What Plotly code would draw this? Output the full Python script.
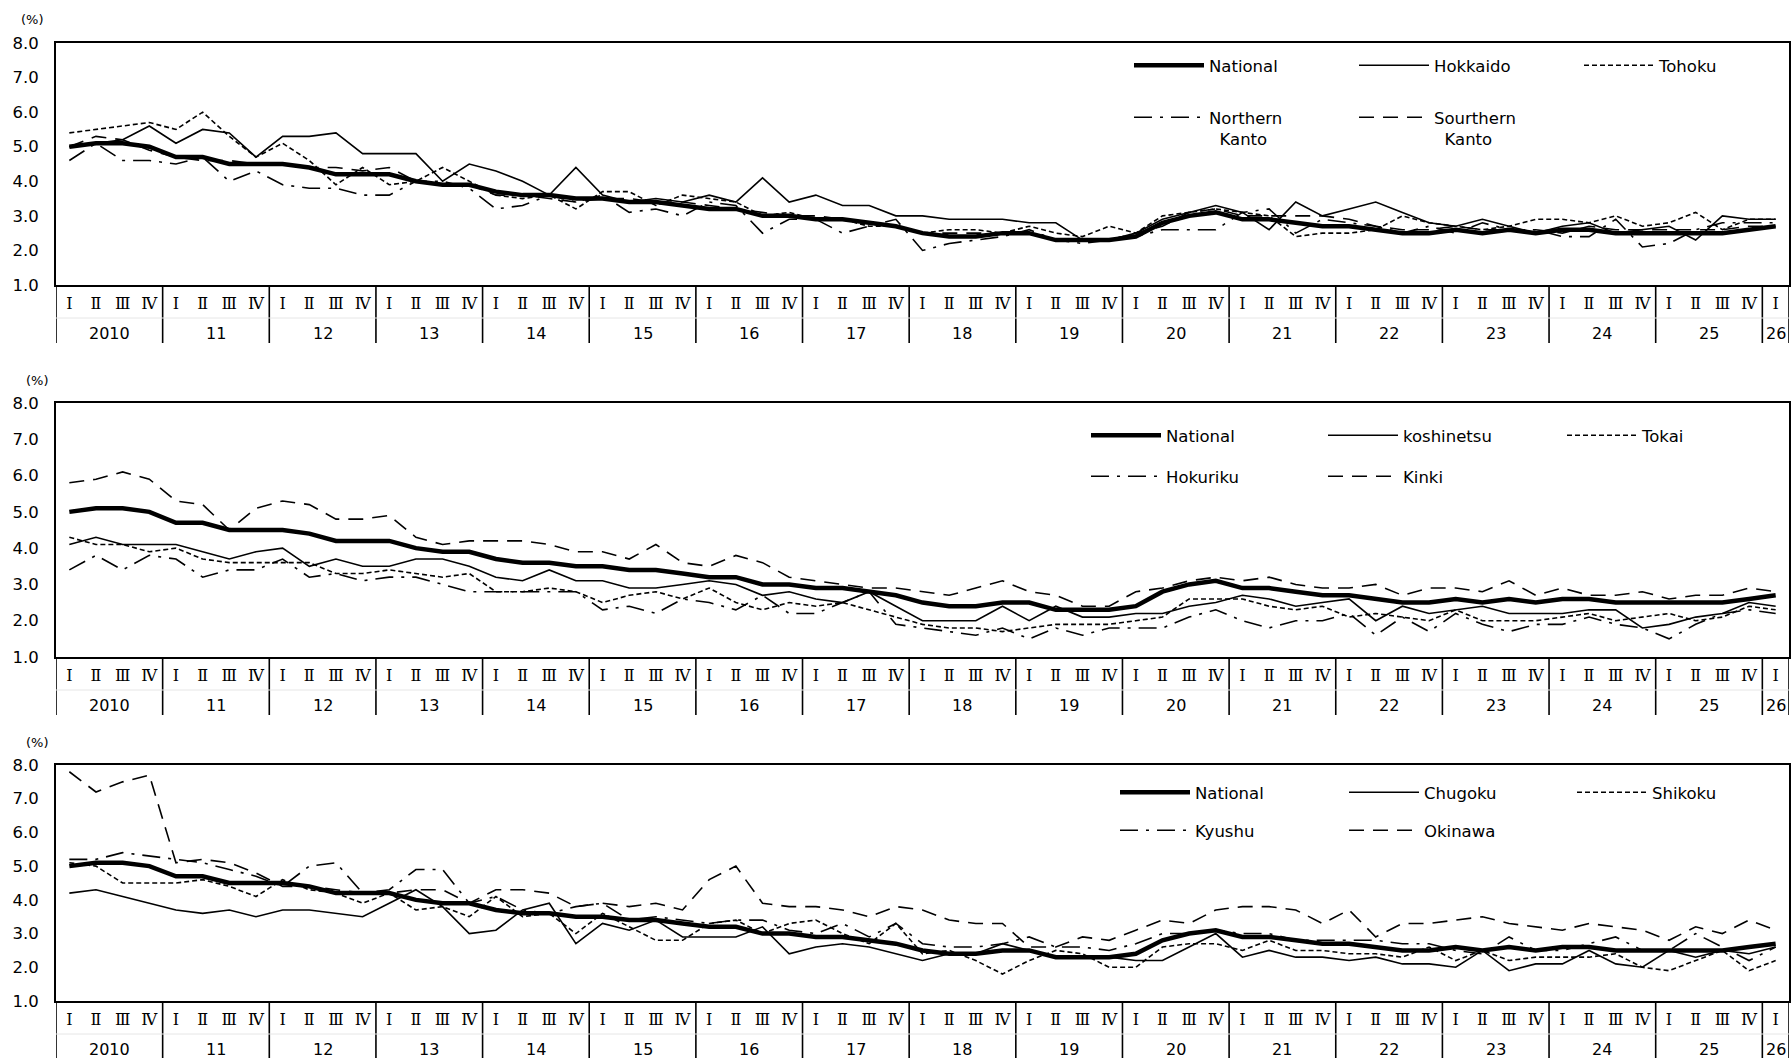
"""
    Regional unemployment rate, quarterly, three panels
"""

##########==========##########==========##########==========##########==========
## INITIALIZE ENVIRONMENT

import plotly.graph_objects as go

## categories
periods = [f'{y} Q{q}' for y in range(2010, 2026) for q in range(1, 5)] + ['2026 Q1']
quarter_text = ['Ⅰ', 'Ⅱ', 'Ⅲ', 'Ⅳ'] * 16 + ['Ⅰ']
year_text = ['2010', '11', '12', '13', '14', '15', '16', '17', '18', '19',
             '20', '21', '22', '23', '24', '25', '26']

## series values (%)
national = [5.0, 5.1, 5.1, 5.0, 4.7, 4.7, 4.5, 4.5, 4.5, 4.4, 4.2, 4.2,
            4.2, 4.0, 3.9, 3.9, 3.7, 3.6, 3.6, 3.5, 3.5, 3.4, 3.4, 3.3,
            3.2, 3.2, 3.0, 3.0, 2.9, 2.9, 2.8, 2.7, 2.5, 2.4, 2.4, 2.5,
            2.5, 2.3, 2.3, 2.3, 2.4, 2.8, 3.0, 3.1, 2.9, 2.9, 2.8, 2.7,
            2.7, 2.6, 2.5, 2.5, 2.6, 2.5, 2.6, 2.5, 2.6, 2.6, 2.5, 2.5,
            2.5, 2.5, 2.5, 2.6, 2.7]
hokkaido = [5.0, 5.1, 5.2, 5.6, 5.1, 5.5, 5.4, 4.7, 5.3, 5.3, 5.4, 4.8,
            4.8, 4.8, 4.0, 4.5, 4.3, 4.0, 3.6, 4.4, 3.6, 3.4, 3.5, 3.4,
            3.6, 3.4, 4.1, 3.4, 3.6, 3.3, 3.3, 3.0, 3.0, 2.9, 2.9, 2.9,
            2.8, 2.8, 2.3, 2.3, 2.5, 2.9, 3.1, 3.3, 3.1, 2.6, 3.4, 3.0,
            3.2, 3.4, 3.1, 2.8, 2.7, 2.9, 2.7, 2.5, 2.7, 2.8, 2.5, 2.6,
            2.7, 2.3, 3.0, 2.9, 2.9]
tohoku = [5.4, 5.5, 5.6, 5.7, 5.5, 6.0, 5.3, 4.7, 5.1, 4.6, 3.9, 4.4,
          3.9, 4.0, 4.4, 4.0, 3.6, 3.5, 3.6, 3.2, 3.7, 3.7, 3.3, 3.6,
          3.5, 3.4, 3.0, 3.1, 2.9, 2.9, 2.7, 2.7, 2.5, 2.6, 2.6, 2.5,
          2.7, 2.5, 2.4, 2.7, 2.5, 3.0, 3.1, 3.2, 3.1, 3.0, 2.4, 2.5,
          2.5, 2.6, 3.0, 2.8, 2.7, 2.6, 2.7, 2.9, 2.9, 2.8, 3.0, 2.7,
          2.8, 3.1, 2.6, 2.9, 2.9]
n_kanto = [4.6, 5.1, 4.6, 4.6, 4.5, 4.7, 4.0, 4.3, 3.9, 3.8, 3.8, 3.6,
           3.6, 4.0, 4.0, 3.8, 3.2, 3.3, 3.6, 3.4, 3.6, 3.1, 3.2, 3.0,
           3.4, 3.3, 2.5, 2.9, 2.9, 2.5, 2.7, 2.9, 2.0, 2.2, 2.3, 2.4,
           2.6, 2.3, 2.2, 2.3, 2.4, 2.6, 2.6, 2.6, 3.1, 3.2, 2.5, 2.9,
           2.8, 2.7, 2.5, 2.7, 2.5, 2.8, 2.6, 2.6, 2.4, 2.4, 2.9, 2.1,
           2.2, 2.6, 2.8, 2.8, 2.8]
s_kanto = [5.0, 5.3, 5.2, 4.9, 4.7, 4.6, 4.6, 4.5, 4.5, 4.4, 4.4, 4.3,
           4.4, 4.0, 3.9, 3.9, 3.6, 3.6, 3.5, 3.4, 3.5, 3.5, 3.4, 3.4,
           3.3, 3.2, 3.1, 3.0, 3.0, 2.9, 2.8, 2.7, 2.5, 2.5, 2.5, 2.5,
           2.5, 2.3, 2.3, 2.3, 2.5, 2.7, 3.1, 3.2, 3.0, 3.0, 3.0, 3.0,
           2.9, 2.7, 2.6, 2.6, 2.7, 2.6, 2.6, 2.6, 2.5, 2.7, 2.6, 2.6,
           2.6, 2.6, 2.6, 2.7, 2.7]
koshinetsu = [4.1, 4.3, 4.1, 4.1, 4.1, 3.9, 3.7, 3.9, 4.0, 3.5, 3.7, 3.5,
              3.5, 3.7, 3.7, 3.5, 3.2, 3.1, 3.4, 3.1, 3.1, 2.9, 2.9, 3.0,
              3.1, 3.0, 2.7, 2.8, 2.6, 2.5, 2.8, 2.4, 2.0, 2.0, 2.0, 2.4,
              2.0, 2.4, 2.1, 2.1, 2.2, 2.2, 2.4, 2.5, 2.7, 2.6, 2.4, 2.5,
              2.6, 2.0, 2.4, 2.2, 2.3, 2.4, 2.2, 2.2, 2.2, 2.3, 2.3, 1.8,
              1.9, 2.1, 2.2, 2.5, 2.4]
tokai = [4.3, 4.1, 4.1, 3.9, 4.0, 3.7, 3.6, 3.6, 3.6, 3.6, 3.3, 3.3,
         3.4, 3.3, 3.2, 3.3, 2.8, 2.8, 2.9, 2.8, 2.5, 2.7, 2.8, 2.6,
         2.9, 2.5, 2.3, 2.5, 2.4, 2.5, 2.3, 2.1, 1.9, 1.8, 1.8, 1.7,
         1.8, 1.9, 1.9, 1.9, 2.0, 2.1, 2.6, 2.6, 2.6, 2.4, 2.3, 2.4,
         2.1, 2.2, 2.1, 2.0, 2.3, 2.0, 2.0, 2.0, 2.1, 2.2, 2.0, 2.1,
         2.2, 2.0, 2.1, 2.4, 2.3]
hokuriku = [3.4, 3.8, 3.4, 3.8, 3.7, 3.2, 3.4, 3.4, 3.7, 3.2, 3.3, 3.1,
            3.2, 3.2, 3.0, 2.8, 2.8, 2.8, 2.8, 2.8, 2.3, 2.4, 2.2, 2.6,
            2.5, 2.3, 2.7, 2.2, 2.2, 2.5, 2.8, 1.9, 1.8, 1.7, 1.6, 1.8,
            1.5, 1.8, 1.6, 1.8, 1.8, 1.8, 2.1, 2.3, 2.0, 1.8, 2.0, 2.0,
            2.2, 1.6, 2.1, 1.7, 2.2, 1.9, 1.7, 1.9, 1.9, 2.1, 1.9, 1.8,
            1.5, 1.9, 2.2, 2.3, 2.2]
kinki = [5.8, 5.9, 6.1, 5.9, 5.3, 5.2, 4.5, 5.1, 5.3, 5.2, 4.8, 4.8,
         4.9, 4.3, 4.1, 4.2, 4.2, 4.2, 4.1, 3.9, 3.9, 3.7, 4.1, 3.6,
         3.5, 3.8, 3.6, 3.2, 3.1, 3.0, 2.9, 2.9, 2.8, 2.7, 2.9, 3.1,
         2.8, 2.7, 2.4, 2.4, 2.8, 2.9, 3.1, 3.2, 3.1, 3.2, 3.0, 2.9,
         2.9, 3.0, 2.7, 2.9, 2.9, 2.8, 3.1, 2.7, 2.9, 2.7, 2.7, 2.8,
         2.6, 2.7, 2.7, 2.9, 2.8]
chugoku = [4.2, 4.3, 4.1, 3.9, 3.7, 3.6, 3.7, 3.5, 3.7, 3.7, 3.6, 3.5,
           3.9, 4.3, 3.8, 3.0, 3.1, 3.7, 3.9, 2.7, 3.3, 3.1, 3.4, 2.9,
           2.9, 2.9, 3.2, 2.4, 2.6, 2.7, 2.6, 2.4, 2.2, 2.4, 2.4, 2.7,
           2.5, 2.3, 2.3, 2.3, 2.2, 2.2, 2.6, 3.0, 2.3, 2.5, 2.3, 2.3,
           2.2, 2.3, 2.1, 2.1, 2.0, 2.5, 1.9, 2.1, 2.1, 2.5, 2.1, 2.0,
           2.5, 2.3, 2.5, 2.4, 2.6]
shikoku = [5.1, 5.0, 4.5, 4.5, 4.5, 4.6, 4.4, 4.1, 4.6, 4.3, 4.2, 3.9,
           4.2, 3.7, 3.8, 3.5, 4.1, 3.5, 3.6, 3.0, 3.6, 3.2, 2.8, 2.8,
           3.3, 3.4, 3.0, 3.3, 3.4, 3.0, 2.7, 3.3, 2.4, 2.5, 2.2, 1.8,
           2.2, 2.5, 2.4, 2.0, 2.0, 2.6, 2.7, 2.7, 2.5, 2.8, 2.5, 2.5,
           2.4, 2.4, 2.3, 2.6, 2.2, 2.5, 2.2, 2.3, 2.3, 2.3, 2.4, 2.0,
           1.9, 2.2, 2.5, 1.9, 2.2]
kyushu = [5.2, 5.2, 5.4, 5.3, 5.2, 5.1, 4.9, 4.7, 4.4, 5.0, 5.1, 4.2,
          4.3, 4.9, 4.9, 3.9, 4.1, 3.7, 3.6, 3.8, 3.9, 3.4, 3.5, 3.4,
          3.3, 3.4, 3.4, 3.1, 3.0, 3.3, 2.9, 3.3, 2.7, 2.6, 2.6, 2.7,
          2.9, 2.6, 2.6, 2.5, 2.7, 3.0, 3.0, 3.1, 3.0, 3.0, 2.8, 2.8,
          2.8, 2.8, 2.7, 2.7, 2.5, 2.4, 2.9, 2.5, 2.5, 2.7, 2.9, 2.5,
          2.5, 3.0, 2.6, 2.2, 2.6]
okinawa = [7.8, 7.2, 7.5, 7.7, 5.1, 5.2, 5.1, 4.8, 4.4, 4.4, 4.3, 4.2,
           4.2, 4.3, 4.3, 3.9, 4.3, 4.3, 4.2, 3.8, 3.9, 3.8, 3.9, 3.7,
           4.6, 5.0, 3.9, 3.8, 3.8, 3.7, 3.5, 3.8, 3.7, 3.4, 3.3, 3.3,
           2.6, 2.6, 2.9, 2.8, 3.1, 3.4, 3.3, 3.7, 3.8, 3.8, 3.7, 3.3,
           3.7, 2.9, 3.3, 3.3, 3.4, 3.5, 3.3, 3.2, 3.1, 3.3, 3.2, 3.1,
           2.8, 3.2, 3.0, 3.4, 3.1]

## page geometry (pixels)
W, H = 1791, 1058
PLOT_L, PLOT_R = 56, 1789
FONT = 'DejaVu Sans, Verdana, sans-serif'
NUM_FONT = 'DejaVu Serif, Noto Sans CJK JP, serif'

## line styles
STYLE = {
    'national': dict(width = 4.5),
    'solid': dict(width = 1.6),
    'short': dict(width = 1.6, dash = '5px,3px'),
    'dashdot': dict(width = 1.6, dash = '18px,8px,3px,8px'),
    'long': dict(width = 1.6, dash = '15px,9px'),
}

## panels: top / bottom of the plot box, legend columns and rows
panels = [
    dict(top = 43, bottom = 285, cols = [1134, 1359, 1584], rows = [65, 117],
         series = [('National', national, 'national'),
                   ('Hokkaido', hokkaido, 'solid'),
                   ('Tohoku', tohoku, 'short'),
                   ('Northern<br>\u00a0\u00a0Kanto', n_kanto, 'dashdot'),
                   ('Sourthern<br>\u00a0\u00a0Kanto', s_kanto, 'long')]),
    dict(top = 403, bottom = 657, cols = [1091, 1328, 1567], rows = [435, 476],
         series = [('National', national, 'national'),
                   ('koshinetsu', koshinetsu, 'solid'),
                   ('Tokai', tokai, 'short'),
                   ('Hokuriku', hokuriku, 'dashdot'),
                   ('Kinki', kinki, 'long')]),
    dict(top = 765, bottom = 1001, cols = [1120, 1349, 1577], rows = [792, 830],
         series = [('National', national, 'national'),
                   ('Chugoku', chugoku, 'solid'),
                   ('Shikoku', shikoku, 'short'),
                   ('Kyushu', kyushu, 'dashdot'),
                   ('Okinawa', okinawa, 'long')]),
]


def py(px):
    """ pixel row -> paper y """
    return 1 - px / H


def px_x(px):
    """ pixel column -> paper x """
    return px / W


##########==========##########==========##########==========##########==========
## DRAW

fig = go.Figure()
shapes, annotations = [], []
legend_n = 0

for p, panel in enumerate(panels):
    sfx = '' if p == 0 else str(p + 1)
    xa, ya = 'x' + sfx, 'y' + sfx

    ## one small legend per entry, laid out in a 3 x 2 grid
    keys = []
    for j in range(len(panel['series'])):
        legend_n += 1
        key = 'legend' if legend_n == 1 else f'legend{legend_n}'
        keys.append(key)
        fig.update_layout({key: dict(
            x = px_x(panel['cols'][j % 3] - 5), xanchor = 'left',
            y = py(panel['rows'][j // 3] - 17), yanchor = 'top',
            bgcolor = 'rgba(0,0,0,0)', borderwidth = 0,
            itemwidth = 70, valign = 'top',
            font = dict(family = FONT, size = 16.5, color = 'black'),
        )})

    ## regional series first, national drawn last (on top)
    idx = list(range(1, len(panel['series']))) + [0]
    for j in idx:
        name, vals, style = panel['series'][j]
        fig.add_trace(go.Scatter(
            x = periods, y = vals, mode = 'lines', name = name,
            line = dict(color = 'black', **STYLE[style]),
            xaxis = xa, yaxis = ya, legend = keys[j], hoverinfo = 'skip',
        ))

    ## axes
    fig.update_layout({
        ('xaxis' + sfx): dict(
            domain = [px_x(PLOT_L), px_x(PLOT_R)], anchor = ya,
            type = 'category', categoryorder = 'array', categoryarray = periods,
            range = [-0.5, len(periods) - 0.5],
            tickvals = periods, ticktext = quarter_text, tickangle = 0,
            tickfont = dict(family = NUM_FONT, size = 16, color = 'black'),
            ticks = 'outside', ticklen = 3, tickcolor = 'rgba(0,0,0,0)',
            showline = True, linecolor = 'black', linewidth = 2, mirror = True,
            showgrid = False, zeroline = False, fixedrange = True,
            automargin = False,
        ),
        ('yaxis' + sfx): dict(
            domain = [py(panel['bottom']), py(panel['top'])], anchor = xa,
            range = [1, 8], dtick = 1, tickformat = '.1f',
            tickfont = dict(family = FONT, size = 16.5, color = 'black'),
            ticklabelstandoff = 12,
            showline = True, linecolor = 'black', linewidth = 2, mirror = True,
            showgrid = False, zeroline = False, ticks = '', fixedrange = True,
            automargin = False,
        ),
    })

    ## year dividers below the axis
    for xd in [4 * k - 0.5 for k in range(len(year_text))] + [len(periods) - 0.5]:
        shapes.append(dict(
            type = 'line', xref = xa, yref = 'paper', x0 = xd, x1 = xd,
            y0 = py(panel['bottom']), y1 = py(panel['bottom'] + 58),
            line = dict(color = 'black', width = 1.6)))
    shapes.append(dict(
        type = 'line', xref = 'paper', yref = 'paper',
        x0 = px_x(PLOT_L), x1 = px_x(PLOT_R),
        y0 = py(panel['bottom'] + 33), y1 = py(panel['bottom'] + 33),
        line = dict(color = '#e6e6e6', width = 1)))

    ## year labels
    for k, yt in enumerate(year_text):
        cnt = min(4, len(periods) - 4 * k)
        annotations.append(dict(
            xref = xa, yref = 'paper', x = 4 * k + (cnt - 1) / 2,
            y = py(panel['bottom'] + 48), text = yt, showarrow = False,
            font = dict(family = FONT, size = 16, color = 'black'),
            xanchor = 'center', yanchor = 'middle'))

    ## unit label
    annotations.append(dict(
        xref = 'paper', yref = 'paper', x = px_x(32 + (p > 0) * 5),
        y = py(panel['top'] - 23), text = '(%)', showarrow = False,
        font = dict(family = FONT, size = 13, color = 'black'),
        xanchor = 'center', yanchor = 'middle'))

fig.update_layout(
    width = W, height = H, margin = dict(l = 0, r = 0, t = 0, b = 0),
    paper_bgcolor = 'white', plot_bgcolor = 'white',
    shapes = shapes, annotations = annotations, showlegend = True,
)

fig.write_html('out.html', config = {'displayModeBar': False},
               post_script = "document.body.style.margin='0';")
